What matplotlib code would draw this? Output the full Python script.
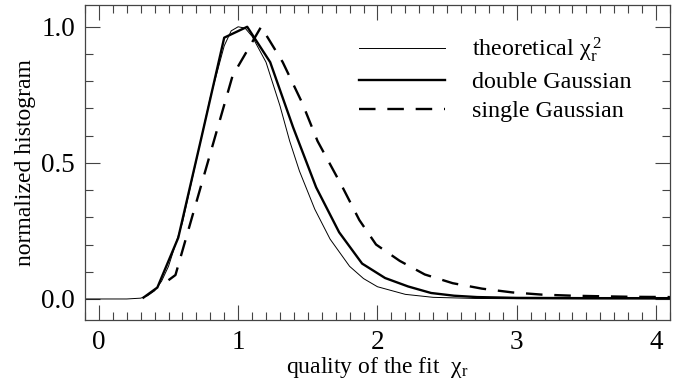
import matplotlib
matplotlib.use('Agg')
import matplotlib.pyplot as plt
from matplotlib.ticker import MultipleLocator

plt.rcParams['font.family'] = ['Liberation Serif', 'DejaVu Serif']
plt.rcParams['mathtext.fontset'] = 'custom'
plt.rcParams['mathtext.rm'] = 'Liberation Serif'
plt.rcParams['mathtext.it'] = 'Liberation Serif:italic'

# theoretical chi_r distribution (thin line)
theo_x = [-0.1, 0.1, 0.2, 0.3, 0.35, 0.4, 0.45, 0.5, 0.6, 0.7, 0.8, 0.9, 0.95, 1.0,
          1.05, 1.1, 1.2, 1.3, 1.37, 1.44, 1.55, 1.66, 1.8, 1.9, 2.0, 2.2, 2.4,
          2.7, 3.0, 4.1]
theo_y = [0.0, 0.0, 0.0, 0.003, 0.012, 0.03, 0.065, 0.12, 0.28, 0.51, 0.74, 0.93,
          0.985, 1.0, 0.995, 0.965, 0.87, 0.71, 0.58, 0.47, 0.33, 0.22, 0.12,
          0.075, 0.045, 0.017, 0.006, 0.002, 0.001, 0.0]

# double Gaussian fit (thick solid)
dbl_x = [0.32, 0.42, 0.57, 0.735, 0.9, 1.065, 1.23, 1.395, 1.56, 1.725, 1.89,
         2.055, 2.22, 2.385, 2.55, 2.715, 3.0, 3.5, 4.1]
dbl_y = [0.005, 0.042, 0.225, 0.59, 0.96, 1.0, 0.87, 0.63, 0.41, 0.245, 0.13,
         0.077, 0.046, 0.022, 0.012, 0.007, 0.004, 0.003, 0.003]

# single Gaussian fit (dashed)
sgl_x = [0.5, 0.55, 0.96, 1.165, 1.32, 1.46, 1.57, 1.75, 1.87, 1.99, 2.16,
         2.34, 2.54, 2.75, 2.97, 3.18, 3.4, 3.6, 3.82, 4.1]
sgl_y = [0.069, 0.088, 0.82, 1.0, 0.87, 0.72, 0.58, 0.41, 0.29, 0.2, 0.14,
         0.09, 0.058, 0.038, 0.024, 0.016, 0.012, 0.01, 0.008, 0.007]

fig = plt.figure(figsize=(6.74, 3.85), dpi=100)
ax = fig.add_axes([0.126, 0.169, 0.868, 0.818])

ax.plot(theo_x, theo_y, color='black', lw=0.7, label=r'theoretical $\mathrm{\chi}_\mathrm{r}^{\,2}$')
ax.plot(dbl_x, dbl_y, color='black', lw=1.7, label='double Gaussian')
ax.plot(sgl_x, sgl_y, color='black', lw=1.7, dashes=(7, 5), label='single Gaussian')

ax.set_xlim(-0.1, 4.1)
ax.set_ylim(-0.077, 1.08)
ax.xaxis.set_major_locator(MultipleLocator(1))
ax.xaxis.set_minor_locator(MultipleLocator(0.1))
ax.yaxis.set_major_locator(MultipleLocator(0.5))
ax.yaxis.set_minor_locator(MultipleLocator(0.1))
ax.yaxis.set_major_formatter(matplotlib.ticker.FormatStrFormatter('%.1f'))
ax.tick_params(which='both', direction='in', top=True, right=True, labelsize=19.5,
               width=0.8, color='#444444')
ax.tick_params(which='major', length=11, pad=7)
ax.tick_params(which='minor', length=6)
for s in ax.spines.values():
    s.set_linewidth(0.9)
    s.set_color('#444444')

ax.set_xlabel(r'quality of the fit  $\mathrm{\chi}_\mathrm{r}$', fontsize=17, labelpad=0)
ax.set_ylabel('normalized histogram', fontsize=17, labelpad=4)

ax.legend(loc='upper right', frameon=False, fontsize=17.3, handlelength=3.6,
          handletextpad=1.1, labelspacing=0.3, borderaxespad=0.6,
          bbox_to_anchor=(0.975, 0.98))

fig.savefig('out.png', dpi=100)
